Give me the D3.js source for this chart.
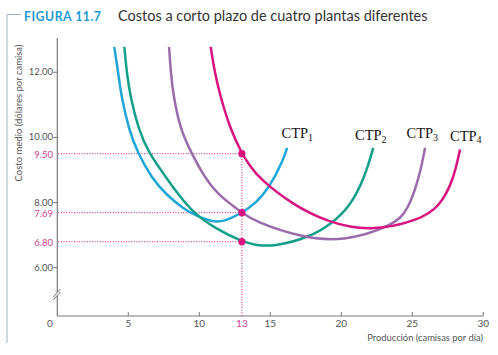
<!DOCTYPE html>
<html><head><meta charset="utf-8">
<script src="https://cdn.jsdelivr.net/npm/d3@7"></script>
<style>body{margin:0;background:#fff}svg{display:block}</style>
</head><body>
<script>
// ---- data ----
const xTicks = [5, 10, 15, 20, 25, 30];
const yTicks = [6, 8, 10, 12];
const highlightQ = 13;
const highlightCosts = [9.50, 7.69, 6.80];
const curveNames = ["CTP1", "CTP2", "CTP3", "CTP4"];
const ctp1 = [[4.01,12.78],[4.3,11.97],[4.49,11.30],[5.05,10.22],[5.65,9.54],[6.65,8.75],[7.70,8.23],[8.87,7.82],[9.58,7.64],[10.87,7.40],[11.8,7.42],[13,7.69],[13.92,7.95],[14.98,8.49],[15.92,9.31],[16.18,9.68]];
const ctp2 = [[4.72,12.78],[4.9,11.97],[5.12,11.30],[5.72,10.24],[6.41,9.54],[7.70,8.75],[8.55,8.23],[9.70,7.64],[11.1,7.21],[13,6.80],[13.92,6.70],[15.2,6.64],[17.8,6.94],[19.3,7.35],[20.6,7.86],[21.67,8.79],[22.25,9.68]];
const ctp3 = [[7.87,12.78],[8.0,11.97],[8.17,11.30],[8.64,10.28],[9.42,9.54],[10.40,8.75],[11.34,8.23],[13,7.69],[13.92,7.42],[17.1,6.94],[20.1,6.79],[23.7,7.30],[24.7,7.76],[25.5,8.79],[25.9,9.68]];
const ctp4 = [[10.8,12.78],[11.1,11.97],[11.46,11.30],[12.16,10.28],[13,9.5],[13.56,9.13],[14.27,8.72],[16.6,7.93],[18.97,7.41],[22.0,7.10],[25.5,7.46],[26.9,7.86],[27.9,8.69],[28.36,9.63]];
const seriesData = [ctp1, ctp2, ctp3, ctp4];

// ---- layout ----
const W = 498, H = 355;
const colors = ["#1da6d6", "#12a08a", "#9b6cab", "#d8137f"];
const pink = "#d43c97";
const svg = d3.select("body").append("svg").attr("width", W).attr("height", H);
const x = d3.scaleLinear().domain([0, 30]).range([57.3, 483.3]);
const y = d3.scaleLinear().domain([6, 12]).range([267.7, 72.3]);
const x0 = x(0), yAxisY = 316;

// frame + title
svg.append("path").attr("d", "M7,14.5H21M7,14.5V343").attr("stroke", "#9fb3c3").attr("stroke-width", 1).attr("fill", "none");
const title = svg.append("text").attr("x", 24).attr("y", 21).attr("font-family", "Lato, sans-serif");
title.append("tspan").text("FIGURA 11.7").attr("font-weight", "bold").attr("font-size", 12.3).attr("fill", "#1f9ad2").attr("letter-spacing", 0.5);
title.append("tspan").text("Costos a corto plazo de cuatro plantas diferentes").attr("x", 118).attr("font-size", 14.5).attr("fill", "#333");

// y axis label
svg.append("text").attr("transform", `translate(22,113) rotate(-90)`).attr("text-anchor", "middle")
  .attr("font-family", "Lato, sans-serif").attr("font-size", 9.5).attr("fill", "#555").text("Costo medio (dólares por camisa)");

// axes
const axisColor = "#7a7a7a";
svg.append("line").attr("x1", x0).attr("x2", x0).attr("y1", 38).attr("y2", yAxisY).attr("stroke", axisColor).attr("stroke-width", 1.2);
svg.append("line").attr("x1", x0).attr("x2", x(30)).attr("y1", yAxisY).attr("y2", yAxisY).attr("stroke", axisColor).attr("stroke-width", 1.2);
// break
svg.append("rect").attr("x", x0 - 3).attr("y", 292.5).attr("width", 6).attr("height", 3).attr("fill", "#fff");
svg.append("path").attr("d", `M${x0-4},${297}L${x0+3},${289}M${x0-4},${300}L${x0+3},${292}`).attr("stroke", axisColor).attr("stroke-width", 1);

const fontAx = "Lato, sans-serif";
// x ticks
xTicks.forEach(t => {
  svg.append("line").attr("x1", x(t)).attr("x2", x(t)).attr("y1", yAxisY).attr("y2", yAxisY - 4).attr("stroke", axisColor);
  svg.append("text").attr("x", x(t)).attr("y", 327).attr("text-anchor", "middle").attr("font-family", fontAx).attr("font-size", 10).attr("fill", "#555").text(t);
});
svg.append("text").attr("x", 50).attr("y", 327).attr("text-anchor", "middle").attr("font-family", fontAx).attr("font-size", 10).attr("fill", "#555").text("0");
svg.append("text").attr("x", 483).attr("y", 341).attr("text-anchor", "end").attr("font-family", fontAx).attr("font-size", 9.4).attr("fill", "#555").text("Producción (camisas por día)");
// y ticks
yTicks.forEach(t => {
  svg.append("line").attr("x1", x0).attr("x2", x0 - 4).attr("y1", y(t)).attr("y2", y(t)).attr("stroke", axisColor);
  svg.append("text").attr("x", 53).attr("y", y(t) + 3).attr("text-anchor", "end").attr("font-family", fontAx).attr("font-size", 9.5).attr("fill", "#555").text(t.toFixed(2));
});

// dotted guides
highlightCosts.forEach(v => {
  svg.append("line").attr("x1", x0 + 1).attr("x2", x(highlightQ)).attr("y1", y(v)).attr("y2", y(v))
    .attr("stroke", pink).attr("stroke-width", 1.2).attr("stroke-dasharray", "1,1.6");
  svg.append("text").attr("x", 53).attr("y", y(v) + 4).attr("text-anchor", "end").attr("font-family", fontAx).attr("font-size", 9.5).attr("fill", "#cf3f94").text(v.toFixed(2));
});
svg.append("line").attr("x1", x(highlightQ)).attr("x2", x(highlightQ)).attr("y1", y(d3.max(highlightCosts))).attr("y2", yAxisY)
  .attr("stroke", pink).attr("stroke-width", 1.2).attr("stroke-dasharray", "1,1.6");
svg.append("text").attr("x", x(highlightQ)).attr("y", 327).attr("text-anchor", "middle").attr("font-family", fontAx).attr("font-size", 10).attr("fill", "#cf3f94").text(highlightQ);

// curves
const line = d3.line().x(d => x(d[0])).y(d => y(d[1])).curve(d3.curveBasis);
seriesData.forEach((s, i) => {
  svg.append("path").attr("d", line(s)).attr("fill", "none").attr("stroke", colors[i]).attr("stroke-width", 2.5).attr("stroke-linecap", "butt");
});

// dots
highlightCosts.forEach(v => {
  svg.append("circle").attr("cx", x(highlightQ)).attr("cy", y(v)).attr("r", 3.6).attr("fill", "#d8137f");
});

// curve labels
const labelPos = [[281.5, 138], [355, 140], [406.5, 138], [450, 140.5]];
curveNames.forEach((n, i) => {
  const t = svg.append("text").attr("x", labelPos[i][0]).attr("y", labelPos[i][1])
    .attr("font-family", "'Liberation Serif', 'Times New Roman', serif").attr("font-size", 14.5).attr("fill", "#111");
  t.append("tspan").text(n.slice(0, 3));
  t.append("tspan").text(n.slice(3)).attr("font-size", 10).attr("dy", 2.5);
});
</script>
</body></html>
